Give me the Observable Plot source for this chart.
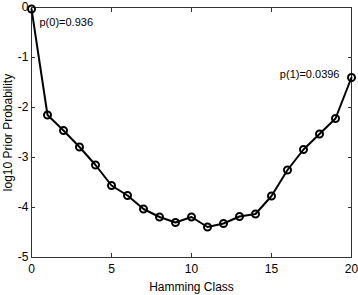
<!DOCTYPE html>
<html><head><meta charset="utf-8">
<script src="https://cdn.jsdelivr.net/npm/d3@7"></script>
<script src="https://cdn.jsdelivr.net/npm/@observablehq/plot@0.6"></script>
<style>body{margin:0;background:#fff;} svg{display:block;font-family:"Liberation Sans",Arial,sans-serif;}</style>
</head><body><div id="chart"></div>
<script>
const hammingClass = [0,1,2,3,4,5,6,7,8,9,10,11,12,13,14,15,16,17,18,19,20];
const logPrior = [-0.029,-2.15,-2.46,-2.79,-3.15,-3.56,-3.76,-4.03,-4.19,-4.30,-4.19,-4.39,-4.32,-4.18,-4.13,-3.77,-3.25,-2.84,-2.53,-2.22,-1.40];
const xTicks = [0,5,10,15,20];
const yTicks = [0,-1,-2,-3,-4,-5];
const annotations = [
  {x: 0, y: -0.029, text: "p(0)=0.936", anchor: "start", dx: 8, dy: 14},
  {x: 20, y: -1.40, text: "p(1)=0.0396", anchor: "end", dx: -12, dy: -3}
];
const data = hammingClass.map((h,i)=>({h, v: logPrior[i]}));
const ink = "#000";
const plot = Plot.plot({
  width: 358, height: 295,
  marginLeft: 31, marginRight: 7, marginTop: 7, marginBottom: 38,
  style: {fontSize: "12px", fontFamily: "Liberation Sans, Arial, sans-serif", color: ink},
  x: {domain: [0,20]},
  y: {domain: [-5,0]},
  marks: [
    Plot.frame({stroke: "#333", strokeWidth: 1}),
    Plot.axisX({ticks: xTicks, tickSize: -4, tickPadding: 11, label: "Hamming Class", labelAnchor: "center", labelOffset: 33, labelArrow: "none", stroke: "#333"}),
    Plot.axisX({ticks: xTicks, anchor: "top", tickSize: -4, tickFormat: () => "", label: null, stroke: "#333"}),
    Plot.axisY({ticks: yTicks, tickSize: -4, tickPadding: 7, tickFormat: d => d === 0 ? "0" : "-" + Math.abs(d), label: "log10 Prior Probability", labelAnchor: "center", labelOffset: 28, labelArrow: "none", stroke: "#333"}),
    Plot.axisY({ticks: yTicks, anchor: "right", tickSize: -4, tickFormat: () => "", label: null, stroke: "#333"}),
    Plot.line(data, {x: "h", y: "v", stroke: ink, strokeWidth: 2}),
    Plot.dot(data, {x: "h", y: "v", r: 3.5, stroke: ink, strokeWidth: 2, fill: "none"}),
    ...annotations.map(a => Plot.text([a], {x: "x", y: "y", text: "text", textAnchor: a.anchor, dx: a.dx, dy: a.dy, fontSize: 11, fontWeight: 500, fill: ink}))
  ]
});
document.getElementById("chart").append(plot);
</script></body></html>
